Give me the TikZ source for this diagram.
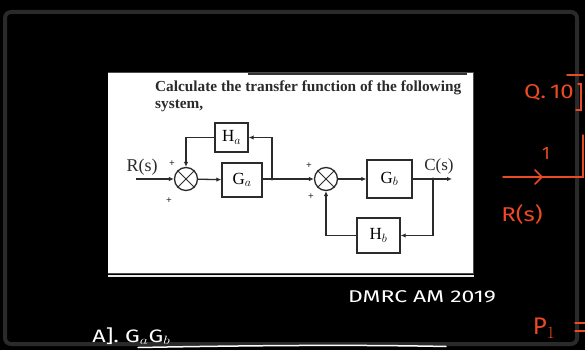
\documentclass[tikz,border=0pt]{standalone}
\usepackage{fontspec}
\setmainfont{Liberation Serif}
\newfontfamily\handfont{Fira Sans}
\usetikzlibrary{arrows.meta}
\definecolor{frameg}{HTML}{2A2A2A}
\definecolor{ink}{HTML}{2B2B2B}
\definecolor{redpen}{HTML}{EC4A22}
\tikzset{
  blk/.style={draw=ink, line width=1.4pt, minimum width=#1, inner sep=0pt, font=\fontsize{17}{17}\selectfont},
  sumj/.style={draw=ink, line width=1.3pt, circle, minimum size=23pt, inner sep=0pt},
  sig/.style={draw=ink, line width=1.3pt},
  sigarr/.style={sig, -{Latex[length=5pt,width=4.5pt]}},
  sgn/.style={font=\fontsize{10}{10}\selectfont\bfseries, text=ink, inner sep=0pt},
  lbl/.style={font=\fontsize{18}{18}\selectfont, text=ink, inner sep=0pt},
  hand/.style={inner sep=0pt},
  pen/.style={draw=redpen, line width=1.5pt, line cap=round}
}
\begin{document}
\begin{tikzpicture}[x=1pt,y=-1pt]
\useasboundingbox (0,0) rectangle (585,350);
\fill[black] (0,0) rectangle (585,350);
% screen frame
\draw[frameg, line width=4pt, rounded corners=6pt] (5,12) rectangle (577,344);
% scanned page
\fill[white] (108,73) rectangle (473,273);
\draw[black!70, line width=1pt] (108,73) -- (473,73) -- (473,273) -- (108,273);
\draw[black!80, line width=2pt] (248,74) -- (467,74);
\draw[white!92!black, line width=2pt] (108,276) -- (474,276);
% title
\node[anchor=west, inner sep=0pt, font=\bfseries\fontsize{15.3}{15.3}\selectfont, text=ink] (t1) at (155,88) {Calculate the transfer function of the following};
\node[anchor=west, inner sep=0pt, font=\bfseries\fontsize{15.3}{15.3}\selectfont, text=ink] (t2) at (155,106) {system,};
% block diagram
\coordinate (rin) at (136,179);
\node[lbl] (rs) at (142,167) {R(s)};
\node[sumj] (s1) at (186,179) {};
\draw[ink, line width=1pt] (s1.north west) -- (s1.south east) (s1.north east) -- (s1.south west);
\node[blk=40pt, minimum height=34pt] (ga) at (242,180) {G$_a$};
\node[blk=33pt, minimum height=29pt] (ha) at (231.5,137.5) {H$_a$};
\coordinate (b1) at (272,179);
\node[sumj] (s2) at (326,179) {};
\draw[ink, line width=1pt] (s2.north west) -- (s2.south east) (s2.north east) -- (s2.south west);
\node[blk=45pt, minimum height=38pt] (gb) at (389.5,179) {G$_b$};
\node[blk=43pt, minimum height=35pt] (hb) at (378.5,235.5) {H$_b$};
\coordinate (b2) at (433,179);
\coordinate (cout) at (452,179);
\node[lbl, font=\fontsize{17}{17}\selectfont] (cs) at (439,166) {C(s)};
\draw[sigarr] (rin) -- (s1);
\draw[sigarr] (s1) -- (ga);
\draw[sig] (ga.east |- b1) -- (b1);
\draw[sigarr] (b1) -- (s2);
\draw[sigarr] (b1) |- (ha);
\draw[sigarr] (ha) -| (s1);
\draw[sigarr] (s2) -- (gb);
\draw[sigarr] (gb) -- (cout);
\draw[sigarr] (b2) |- (hb);
\draw[sigarr] (hb) -| (s2);
\fill[ink] (b1) circle (1.6pt) (b2) circle (1.6pt);
\node[sgn] (p1) at (172,164) {+};
\node[sgn] (p2) at (169,201) {+};
\node[sgn] (p3) at (309,166) {+};
\node[sgn] (p4) at (311,197) {+};
% handwriting
\node[hand, text=white, font=\handfont\fontsize{17}{17}\selectfont, xscale=1.35] (dm) at (422,297) {DMRC AM 2019};
\node[hand, text=white, anchor=west, font=\handfont\fontsize{18}{18}\selectfont, xscale=1.3] (ans) at (92,336) {A]. G$_a$G$_b$};
\draw[white, line width=1.5pt, line cap=round] (138,347.5) .. controls (250,345.5) and (350,344.5) .. (446,346.5);
\node[hand, text=redpen, font=\handfont\fontsize{20}{20}\selectfont, xscale=1.2] (q) at (549,93) {Q.\,10};
\draw[pen] (567,75) -- (583,75);
\draw[pen] (578,84) -- (581,84) -- (581,110) -- (576,110);
\node[hand, text=redpen, font=\handfont\fontsize{18}{18}\selectfont] (one) at (546,153) {1};
\draw[pen] (503,177) -- (583,177) -- (583,135);
\draw[pen] (535,170) -- (542,177) -- (535,184);
\node[hand, text=redpen, font=\handfont\fontsize{20}{20}\selectfont, xscale=1.2] (rr) at (522,214) {R(s)};
\node[hand, text=redpen, font=\handfont\fontsize{24}{24}\selectfont] (pone) at (544,328) {P$_1$};
\draw[pen] (575,323) -- (585,323) (575,331) -- (585,331);
\end{tikzpicture}
\end{document}
